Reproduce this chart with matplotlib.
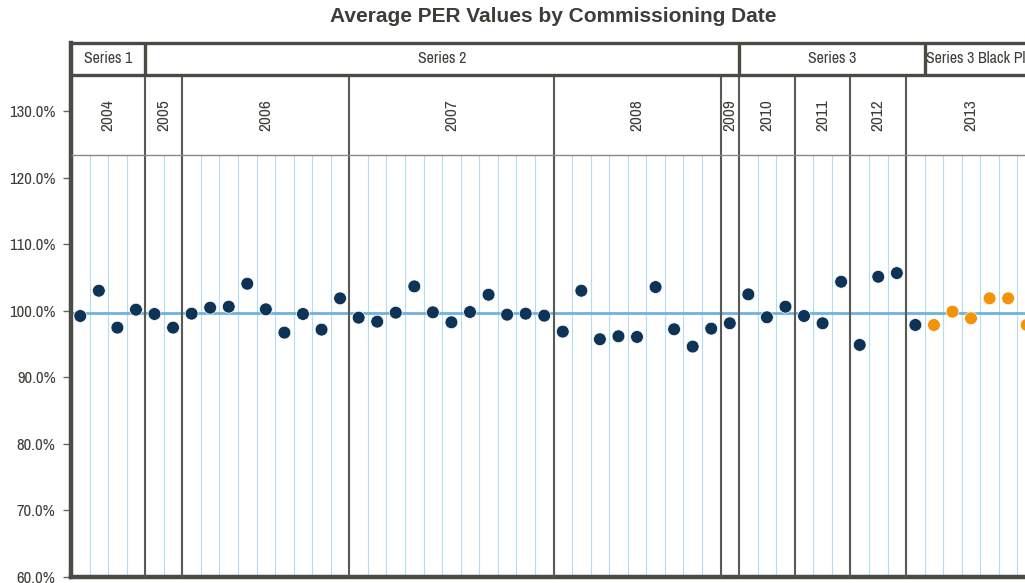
import matplotlib
matplotlib.use('Agg')
import matplotlib.pyplot as plt
import numpy as np

# condensed face like the original; DejaVu Sans if it is missing
plt.rcParams['font.family'] = ['Archivo Narrow', 'DejaVu Sans']

# data
years = ['2004', '2005', '2006', '2007', '2008', '2009', '2010', '2011', '2012', '2013']
year_counts = [4, 2, 9, 11, 9, 1, 3, 3, 3, 7]
series_names = ['Series 1', 'Series 2', 'Series 3', 'Series 3 Black Plus']
series_counts = [4, 32, 10, 6]
per_values = [
    99.25, 103.05, 97.5, 100.2,                                          # 2004
    99.55, 97.5,                                                         # 2005
    99.6, 100.5, 100.65, 104.1, 100.25, 96.75, 99.55, 97.2, 101.9,       # 2006
    99.0, 98.4, 99.75, 103.7, 99.8, 98.3, 99.85, 102.45, 99.45, 99.6, 99.3,  # 2007
    96.9, 103.05, 95.75, 96.2, 96.1, 103.6, 97.25, 94.65, 97.35,         # 2008
    98.15,                                                               # 2009
    102.5, 99.05, 100.65,                                                # 2010
    99.25, 98.15, 104.4,                                                 # 2011
    94.9, 105.15, 105.7,                                                 # 2012
    97.9, 97.9, 99.9, 98.9, 101.9, 101.9, 97.9,                          # 2013
]
avg_per = 99.7
yticks = [60, 70, 80, 90, 100, 110, 120, 130]

navy = '#0d3457'
orange = '#f2930b'
frame = '#4b4a44'
text_col = '#3f3f3a'

n = len(per_values)
x = np.arange(n) + 0.5
series_edges = np.concatenate([[0], np.cumsum(series_counts)])
year_edges = np.concatenate([[0], np.cumsum(year_counts)])
colors = [orange if i >= series_edges[3] else navy for i in range(n)]

y_min, y_top = 60, 140.3
header_bottom = 123.46   # bottom of the year band
series_bottom = 135.5    # bottom of the series band

fig = plt.figure(figsize=(10.25, 5.83), dpi=100)
# the source is cropped on the right, so the axes run past the canvas edge
ax = fig.add_axes([71 / 1025, 6 / 583, 965 / 1025, 534 / 583])
ax.set_xlim(0, n)
ax.set_ylim(y_min, y_top)

# light blue slot lines in the data area
ax.vlines(np.arange(1, n), y_min, header_bottom, color='#b5dcef', lw=0.8, zorder=1)

# year dividers and labels
ax.vlines(year_edges[1:-1], y_min, series_bottom, color='#5a5a54', lw=1.5, zorder=3)
ax.hlines(header_bottom, 0, n, color='#8a8a84', lw=1.0, zorder=3)
for name, a, b in zip(years, year_edges[:-1], year_edges[1:]):
    ax.text((a + b) / 2, (header_bottom + series_bottom) / 2, name, rotation=90,
            ha='center', va='center', fontsize=12.5, color=text_col, zorder=4)

# series band
ax.hlines(series_bottom, 0, n, color=frame, lw=2.4, zorder=4)
ax.vlines(series_edges[1:-1], series_bottom, y_top, color=frame, lw=2.4, zorder=4)
for name, a, b in zip(series_names, series_edges[:-1], series_edges[1:]):
    ax.text((a + b) / 2 + (0.15 if b == n else 0), (series_bottom + y_top) / 2, name,
            ha='center', va='center', fontsize=11.5, color=text_col, zorder=4)

# average line and points
ax.axhline(avg_per, color='#6cb3df', lw=2.0, zorder=2)
ax.scatter(x, per_values, s=85, c=colors, edgecolors='white', linewidths=0.5, zorder=5)

ax.set_xticks([])
ax.set_yticks(yticks)
ax.set_yticklabels(['{:.1f}%'.format(v) for v in yticks], fontsize=12, color=text_col)
ax.tick_params(axis='y', direction='out', length=6, width=1, color='#666660', pad=5)

for side in ['left', 'bottom']:
    ax.spines[side].set_linewidth(3.2)
    ax.spines[side].set_color(frame)
ax.spines['top'].set_linewidth(2.4)
ax.spines['top'].set_color(frame)
ax.spines['right'].set_visible(False)

fig.text((71 + 1036) / 2 / 1025, 1 - 17 / 583, 'Average PER Values by Commissioning Date',
         ha='center', va='center', fontsize=15, fontweight='bold',
         family=['Liberation Sans', 'DejaVu Sans'], color='#3d3d38')

fig.savefig('out.png', dpi=100)
